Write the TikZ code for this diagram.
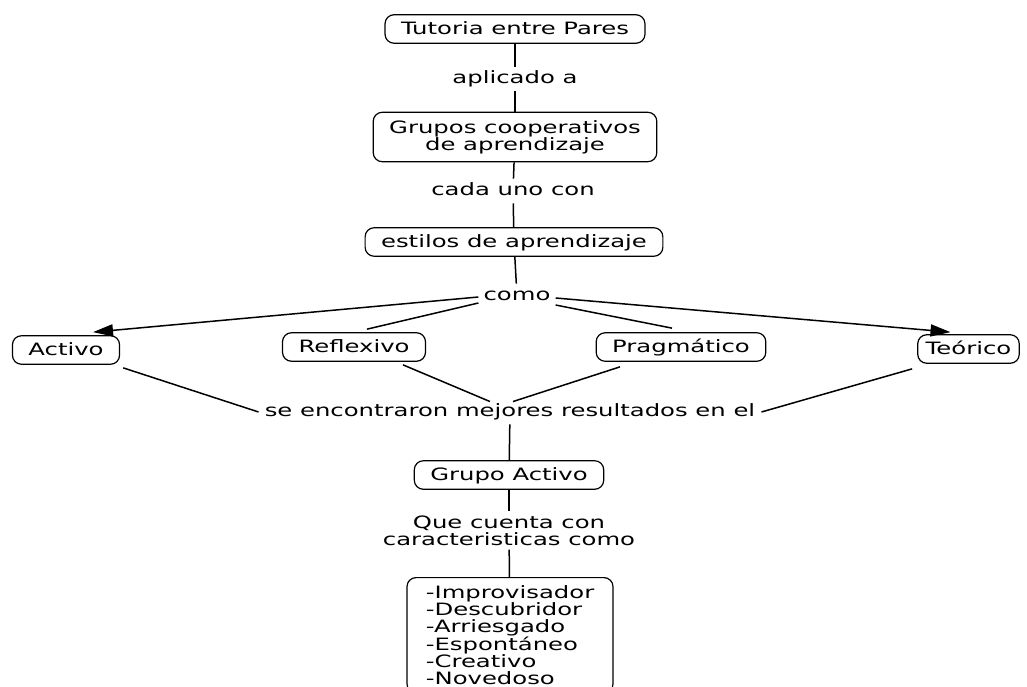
\documentclass[tikz,border=0pt]{standalone}
\usepackage{fontspec}
\setmainfont{DejaVu Sans}[FakeStretch=1.43]
\usetikzlibrary{arrows.meta}

\begin{document}
\begin{tikzpicture}[
    x=1pt, y=-1pt,
    every node/.style={font=\fontsize{17}{17}\selectfont},
    concept/.style={draw, line width=1.2pt, rounded corners=9pt, inner xsep=16pt, inner ysep=7pt, text height=12.5pt, text depth=2pt},
    bigconcept/.style={draw, line width=1.2pt, rounded corners=9pt, inner xsep=16pt, inner ysep=8pt},
    linkword/.style={inner xsep=5pt, inner ysep=4pt, text height=12.5pt, text depth=4pt},
    link/.style={line width=1.5pt},
    arrowlink/.style={line width=1.5pt, -{Triangle[length=20pt,width=12pt]}},
]
    \useasboundingbox (0,0) rectangle (1027,687);

    % Upper chain
    \node[concept] (tutoria) at (515,29) {Tutoria entre Pares};
    \node[linkword] (aplicado) at (515,79) {aplicado a};
    \node[bigconcept, align=center] (grupos) at (515,137) {Grupos cooperativos\\de aprendizaje};
    \node[linkword] (cada) at (513,191) {cada uno con};
    \node[concept] (estilos) at (514,242) {estilos de aprendizaje};
    \node[linkword] (como) at (517,296) {como};

    \draw[link] (tutoria) -- (aplicado);
    \draw[link] (aplicado) -- (grupos);
    \draw[link] (grupos) -- (cada);
    \draw[link] (cada) -- (estilos);
    \draw[link] (estilos) -- (como);

    % Styles
    \node[concept] (activo) at (66,350) {Activo};
    \node[concept] (reflexivo) at (354,347) {Reflexivo};
    \node[concept] (pragmatico) at (681,347) {Pragmático};
    \node[concept, inner xsep=8pt] (teorico) at (968.5,349) {Teórico};

    \draw[arrowlink] ([yshift=-1pt]como.west) -- ([xshift=27pt,yshift=3pt]activo.north);
    \draw[link] ([yshift=-7pt]como.west) -- ([xshift=13pt,yshift=3pt]reflexivo.north);
    \draw[link] ([yshift=-9pt]como.east) -- ([xshift=-9pt,yshift=4pt]pragmatico.north);
    \draw[arrowlink] ([yshift=-2pt]como.east) -- ([xshift=-18pt,yshift=2pt]teorico.north);

    % Result
    \node[linkword, inner xsep=6pt] (encontraron) at (510,412) {se encontraron mejores resultados en el};

    \draw[link] ([xshift=3pt,yshift=-3pt]activo.south east) -- (encontraron.west);
    \draw[link] ([xshift=49pt,yshift=-3pt]reflexivo.south) -- ([xshift=-20pt,yshift=-2pt]encontraron.north);
    \draw[link] ([xshift=-61pt,yshift=-5pt]pragmatico.south) -- ([xshift=3pt,yshift=-2pt]encontraron.north);
    \draw[link] ([xshift=-5pt,yshift=-5pt]teorico.south west) -- (encontraron.east);

    \node[concept] (grupoactivo) at (509,475) {Grupo Activo};
    \node[inner sep=4pt, align=center] (cuenta) at (509,530.5) {Que cuenta con\\caracteristicas como};
    \node[bigconcept, align=left, anchor=north, minimum width=206pt] (lista) at (510,577) {-Improvisador\\-Descubridor\\-Arriesgado\\-Espontáneo\\-Creativo\\-Novedoso};

    \draw[link] (encontraron) -- (grupoactivo);
    \draw[link] (grupoactivo) -- (cuenta);
    \draw[link] (cuenta) -- (lista);
\end{tikzpicture}
\end{document}
